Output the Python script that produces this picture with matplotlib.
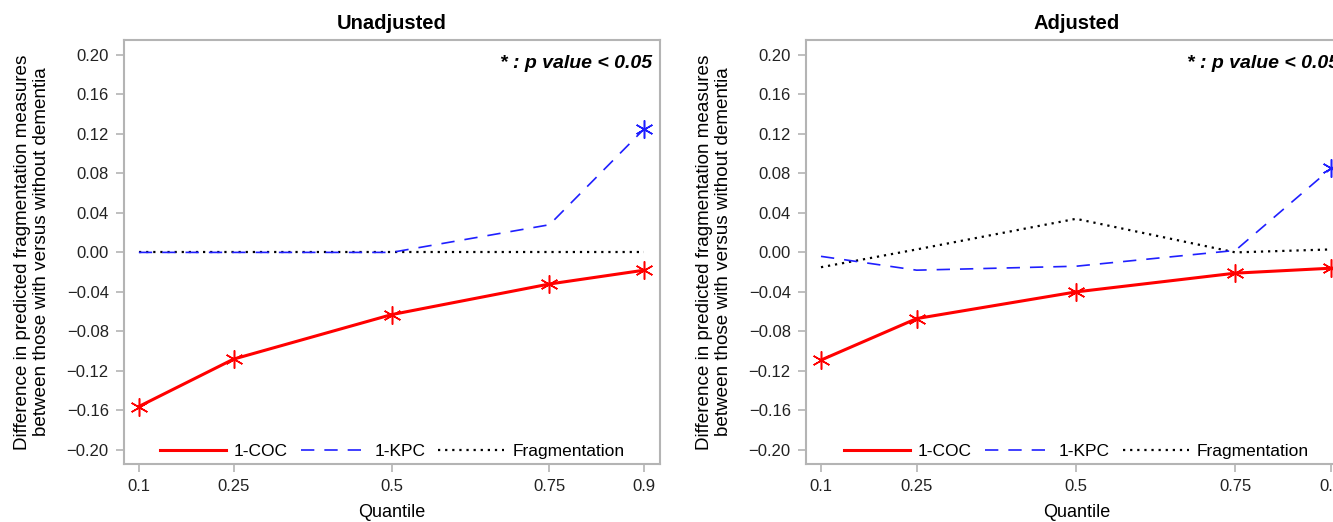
import matplotlib.pyplot as plt
import numpy as np

plt.rcParams['font.family'] = ['Liberation Sans', 'DejaVu Sans']

# quantiles on the x axis
quantiles = [0.1, 0.25, 0.5, 0.75, 0.9]
xtick_labels = ["0.1", "0.25", "0.5", "0.75", "0.9"]
yticks = [-0.20, -0.16, -0.12, -0.08, -0.04, 0.00, 0.04, 0.08, 0.12, 0.16, 0.20]

# Unadjusted
coc_unadj = [-0.156, -0.108, -0.063, -0.032, -0.018]
kpc_unadj = [0.000, 0.000, 0.000, 0.028, 0.125]
frag_unadj = [0.000, 0.000, 0.000, 0.000, 0.000]
coc_unadj_sig = [True, True, True, True, True]
kpc_unadj_sig = [False, False, False, False, True]

# Adjusted
coc_adj = [-0.109, -0.067, -0.040, -0.021, -0.016]
kpc_adj = [-0.004, -0.018, -0.014, 0.002, 0.085]
frag_adj = [-0.015, 0.003, 0.034, 0.000, 0.003]
coc_adj_sig = [True, True, True, True, True]
kpc_adj_sig = [False, False, False, False, True]

W, H = 1333, 522
fig = plt.figure(figsize=(W / 100, H / 100), dpi=100)

ast = (6, 2, 0)  # six armed asterisk
grey = "#b4b4b4"


def panel(rect, title, coc, kpc, frag, coc_sig, kpc_sig):
    ax = fig.add_axes(rect)
    x = np.array(quantiles)
    ax.plot(x, frag, color="black", lw=1.6, dashes=(1, 2.2), label="Fragmentation", zorder=2)
    ax.plot(x, kpc, color="#1f1fff", lw=1.2, dashes=(8, 6), label="1-KPC", zorder=3)
    ax.plot(x, coc, color="#ff0000", lw=2.2, label="1-COC", zorder=4)
    m = np.array(coc_sig)
    ax.plot(x[m], np.array(coc)[m], ls="none", marker=ast, ms=13, mew=1.1,
            color="#ff0000", zorder=5)
    m = np.array(kpc_sig)
    ax.plot(x[m], np.array(kpc)[m], ls="none", marker=ast, ms=13, mew=1.1,
            color="#1f1fff", zorder=5)

    ax.set_xlim(0.0765, 0.925)
    ax.set_ylim(-0.2142, 0.215)
    ax.set_xticks(quantiles)
    ax.set_xticklabels(xtick_labels)
    ax.set_yticks(yticks)
    ax.set_yticklabels([f"{v:.2f}".replace("-", "\u2212") for v in yticks])
    for s in ax.spines.values():
        s.set_color(grey)
        s.set_linewidth(1.5)
    ax.tick_params(axis="both", colors=grey, labelcolor="#222222", labelsize=12,
                   length=6, width=1.2)
    ax.tick_params(axis="x", pad=5)
    ax.tick_params(axis="y", pad=5)
    ax.set_title(title, fontsize=14.5, fontweight="bold", pad=8)
    ax.set_xlabel("Quantile", fontsize=13, labelpad=7)
    ax.set_ylabel("Difference in predicted fragmentation measures\nbetween those with versus without dementia",
                  fontsize=13.6, labelpad=12, linespacing=1.12)
    ax.text(0.985, 0.965, "* : p value < 0.05", transform=ax.transAxes,
            ha="right", va="top", fontsize=14, fontweight="bold", style="italic")

    h, l = ax.get_legend_handles_labels()
    order = [2, 1, 0]
    ax.legend([h[i] for i in order], [l[i] for i in order], loc="lower center",
              bbox_to_anchor=(0.5, -0.025), ncol=3, frameon=False, fontsize=12.5,
              handlelength=3.8, columnspacing=0.75, handletextpad=0.45)
    return ax


panel([124 / W, 1 - 464 / H, 536 / W, 424 / H], "Unadjusted",
      coc_unadj, kpc_unadj, frag_unadj, coc_unadj_sig, kpc_unadj_sig)
panel([806 / W, 1 - 464 / H, 541 / W, 424 / H], "Adjusted",
      coc_adj, kpc_adj, frag_adj, coc_adj_sig, kpc_adj_sig)

fig.savefig("out.png", dpi=100)
